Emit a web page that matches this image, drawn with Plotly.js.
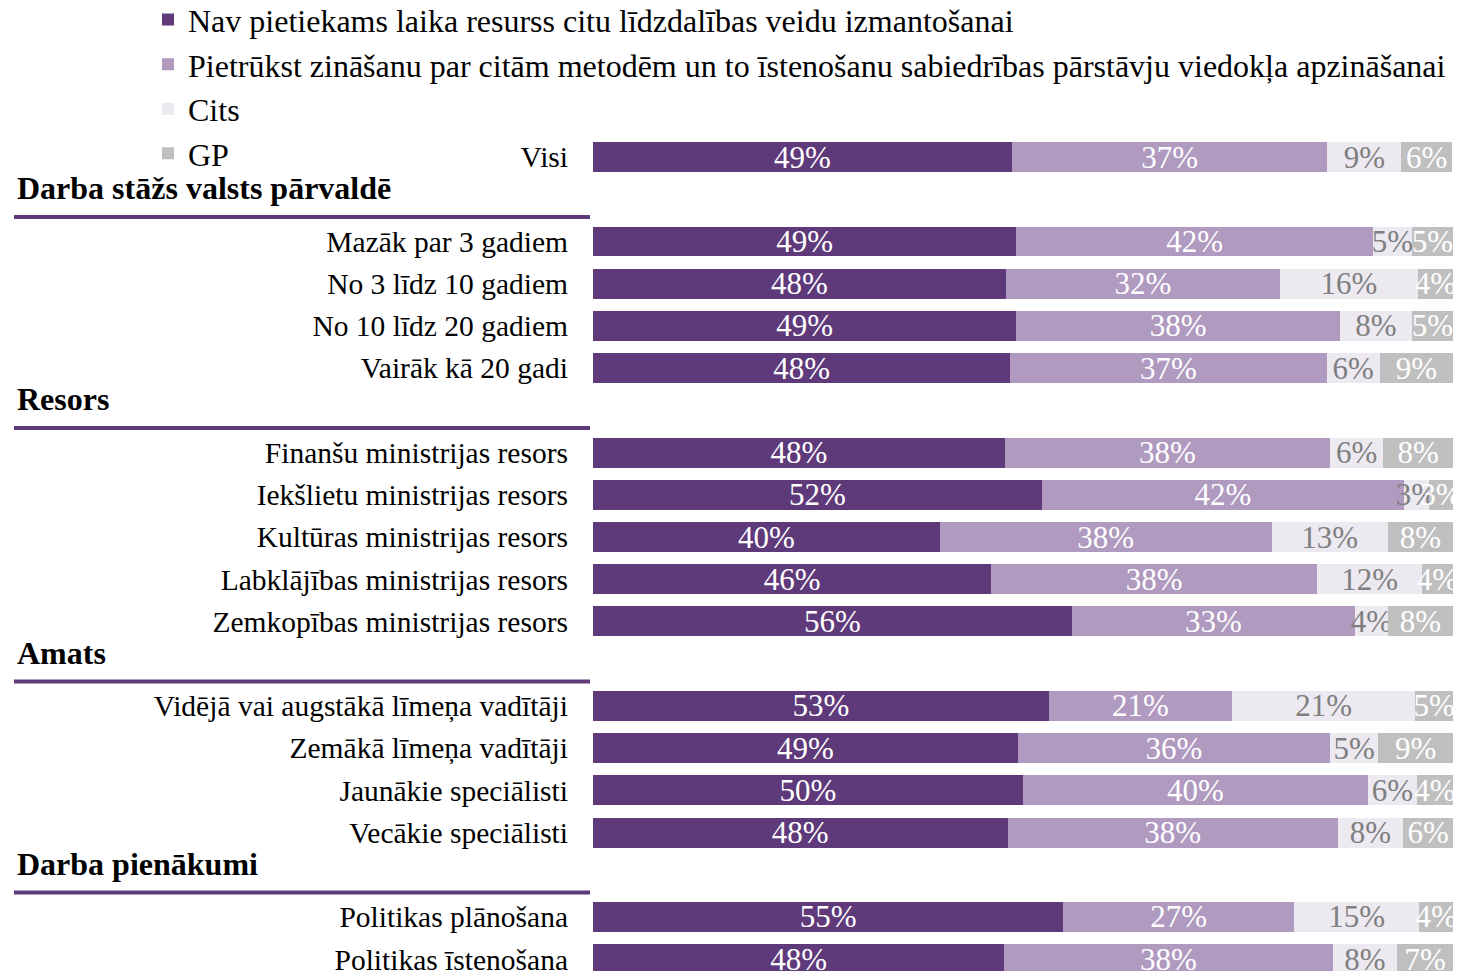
<!DOCTYPE html>
<html>
<head>
<meta charset="utf-8">
<script src="https://cdn.plot.ly/plotly-3.0.1.min.js"></script>
<style>
  html, body { margin: 0; padding: 0; background: #ffffff; }
  #chart { width: 1458px; height: 971px; }
</style>
</head>
<body>
<div id="chart"></div>
<script>
// ---- Data ----
const seriesNames = [
  'Nav pietiekams laika resurss citu līdzdalības veidu izmantošanai',
  'Pietrūkst zināšanu par citām metodēm un to īstenošanu sabiedrības pārstāvju viedokļa apzināšanai',
  'Cits',
  'GP'
];

const groupHeaders = ['Darba stāžs valsts pārvaldē', 'Resors', 'Amats', 'Darba pienākumi'];

const overallRows = ['Visi'];
const stazsRows = ['Mazāk par 3 gadiem', 'No 3 līdz 10 gadiem', 'No 10 līdz 20 gadiem', 'Vairāk kā 20 gadi'];
const resorsRows = ['Finanšu ministrijas resors', 'Iekšlietu ministrijas resors', 'Kultūras ministrijas resors',
                    'Labklājības ministrijas resors', 'Zemkopības ministrijas resors'];
const amatsRows = ['Vidējā vai augstākā līmeņa vadītāji', 'Zemākā līmeņa vadītāji', 'Jaunākie speciālisti', 'Vecākie speciālisti'];
const pienakumiRows = ['Politikas plānošana', 'Politikas īstenošana'];

// values (percent)
const navValues   = [48.7, 49.2, 48.0, 49.2, 48.5, 47.9, 52.2, 40.3, 46.3, 55.7, 53.0, 49.4, 50.0, 48.2, 54.7, 47.8];
const pietrValues = [36.7, 41.5, 31.9, 37.7, 36.8, 37.8, 42.1, 38.6, 37.9, 32.9, 21.3, 36.3, 40.1, 38.4, 26.8, 38.2];
const citsValues  = [ 8.6,  4.5, 16.0,  8.3,  6.2,  6.2,  2.9, 13.5, 12.2,  3.8, 21.3,  5.6,  5.7,  7.6, 14.6,  7.5];
const gpValues    = [ 5.9,  4.8,  4.1,  4.8,  8.5,  8.1,  2.8,  7.6,  3.6,  7.6,  4.4,  8.7,  4.2,  5.8,  3.9,  6.5];

// printed labels (percent)
const navLabels   = [49, 49, 48, 49, 48, 48, 52, 40, 46, 56, 53, 49, 50, 48, 55, 48];
const pietrLabels = [37, 42, 32, 38, 37, 38, 42, 38, 38, 33, 21, 36, 40, 38, 27, 38];
const citsLabels  = [ 9,  5, 16,  8,  6,  6,  3, 13, 12,  4, 21,  5,  6,  8, 15,  8];
const gpLabels    = [ 6,  5,  4,  5,  9,  8,  3,  8,  4,  8,  5,  9,  4,  6,  4,  7];

// ---- Build ----
const rows = [].concat(overallRows, stazsRows, resorsRows, amatsRows, pienakumiRows);
const rowGroups = [overallRows, stazsRows, resorsRows, amatsRows, pienakumiRows];
const categoryOrder = [];
rowGroups.forEach((g, i) => {
  if (i > 0) categoryOrder.push(groupHeaders[i - 1]);
  g.forEach(r => categoryOrder.push(r));
});

const colors = ['#5f3a7b', '#b09abf', '#ece9f1', '#bfbfbf'];
const textColors = ['#ffffff', '#ffffff', '#7f7f7f', '#ffffff'];
const values = [navValues, pietrValues, citsValues, gpValues];
const labels = [navLabels, pietrLabels, citsLabels, gpLabels];

const FONT = '"Liberation Serif", "Times New Roman", serif';

const traces = seriesNames.map((name, i) => ({
  type: 'bar',
  orientation: 'h',
  name: name,
  y: rows,
  x: values[i],
  text: labels[i].map(v => v + '%'),
  textposition: 'inside',
  insidetextanchor: 'middle',
  textangle: 0,
  constraintext: 'none',
  textfont: { family: FONT, size: 31, color: textColors[i] },
  marker: { color: colors[i], line: { width: 0 } },
  legendgroup: 'g' + i,
  hoverinfo: 'skip'
}));

const annotations = [];
const shapes = [];
groupHeaders.forEach(h => {
  const idx = categoryOrder.indexOf(h);
  annotations.push({
    xref: 'paper', yref: 'y',
    x: (15 - 593) / 860, y: idx,
    xanchor: 'left', yanchor: 'middle',
    yshift: 11,
    text: '<b>' + h + '</b>',
    showarrow: false,
    font: { family: FONT, size: 32, color: '#000000' }
  });
  shapes.push({
    type: 'line', xref: 'paper', yref: 'y',
    x0: (14 - 593) / 860, x1: (590 - 593) / 860,
    y0: idx + 0.42, y1: idx + 0.42,
    line: { color: '#5f3a7b', width: 4 }
  });
});

const layout = {
  width: 1458, height: 971,
  margin: { l: 593, r: 5, t: 0, b: 0, pad: 0, autoexpand: false },
  paper_bgcolor: '#ffffff', plot_bgcolor: '#ffffff',
  barmode: 'stack',
  bargap: 0.29,
  uniformtext: { mode: 'show', minsize: 31 },
  font: { family: FONT, size: 29.5, color: '#000000' },
  xaxis: { range: [0, 100], showgrid: false, zeroline: false, showticklabels: false, showline: false, fixedrange: true },
  yaxis: {
    type: 'category',
    categoryorder: 'array', categoryarray: categoryOrder,
    range: [19.28, -3.72],
    tickmode: 'array', tickvals: rows, ticktext: rows,
    ticks: '', showgrid: false, zeroline: false, showline: false,
    ticklabelstandoff: 24,
    tickfont: { family: FONT, size: 29.5, color: '#000000' },
    fixedrange: true
  },
  showlegend: true,
  legend: {
    x: (148 - 593) / 860, xanchor: 'left',
    y: 1.008, yanchor: 'top',
    orientation: 'v',
    traceorder: 'grouped',
    tracegroupgap: 0,
    bgcolor: 'rgba(0,0,0,0)',
    font: { family: FONT, size: 32, color: '#000000' },
    itemwidth: 20
  },
  annotations: annotations,
  shapes: shapes
};

Plotly.newPlot('chart', traces, layout, { displayModeBar: false, staticPlot: true });
</script>
</body>
</html>
